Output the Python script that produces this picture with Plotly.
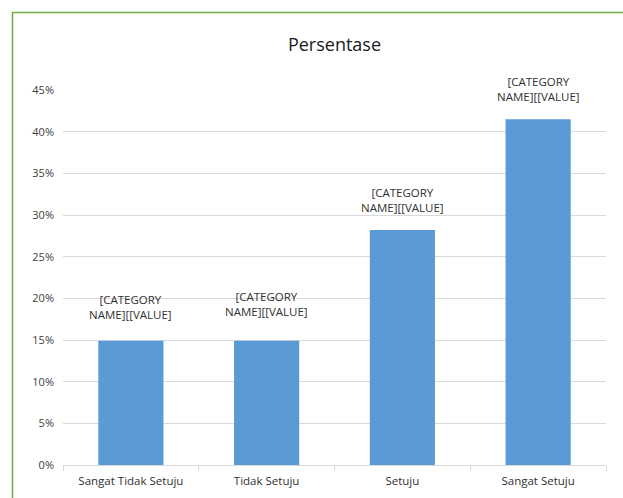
import plotly.graph_objects as go

# Survey response categories and their share of respondents (%)
categories = ["Sangat Tidak Setuju", "Tidak Setuju", "Setuju", "Sangat Setuju"]
percent = [14.9, 14.9, 28.2, 41.5]
y_ticks = [0, 5, 10, 15, 20, 25, 30, 35, 40, 45]
label_text = "[CATEGORY<br>NAME][[VALUE]"

# Extra lift (px) of each data label above its bar
label_lift = [17, 20, 13, 13]

W, H = 623, 498
ML, MR, MT, MB = 63, 17, 90, 33
pw, ph = W - ML - MR, H - MT - MB

font_family = "Open Sans, Noto Sans, sans-serif"

fig = go.Figure(
    go.Bar(
        x=categories,
        y=percent,
        marker=dict(color="#5B9BD5", line=dict(width=0)),
        width=0.48,
    )
)

for cat, val, lift in zip(categories, percent, label_lift):
    fig.add_annotation(
        x=cat, y=val, text=label_text, showarrow=False,
        yanchor="bottom", yshift=lift,
        font=dict(family=font_family, size=11.5, color="#303030"),
    )

# Green frame around the chart area (only top/left visible in the window)
fx0 = (12.5 - ML) / pw
fy1 = (H - MB - 12.5) / ph
fig.add_shape(
    type="rect", xref="paper", yref="paper",
    x0=fx0, x1=2.0, y0=-1.0, y1=fy1,
    line=dict(color="#70AD47", width=1.5), fillcolor="rgba(0,0,0,0)",
    layer="above",
)

fig.update_layout(
    width=W, height=H,
    margin=dict(l=ML, r=MR, t=MT, b=MB),
    paper_bgcolor="white", plot_bgcolor="white",
    showlegend=False,
    title=dict(
        text="Persentase", x=0.5, xref="paper", y=1 - 45 / H, yanchor="middle",
        font=dict(family=font_family, size=18, color="#1a1a1a"),
    ),
    font=dict(family=font_family, size=11, color="#303030"),
    xaxis=dict(
        type="category",
        automargin=False,
        showgrid=False,
        showline=True, linecolor="#D9D9D9", linewidth=1,
        ticks="outside", tickson="boundaries", ticklen=5, tickcolor="#D9D9D9",
        ticklabelstandoff=5,
        tickfont=dict(size=11.5, color="#303030"),
    ),
    yaxis=dict(
        range=[0, 45],
        automargin=False,
        tickvals=y_ticks,
        ticktext=[f"{v}%" for v in y_ticks],
        showgrid=True, gridcolor="#D9D9D9", gridwidth=1,
        zeroline=False, showline=False,
        ticks="", ticklabelstandoff=8,
        tickfont=dict(size=11, color="#404040"),
    ),
)

fig.write_html("out.html")
